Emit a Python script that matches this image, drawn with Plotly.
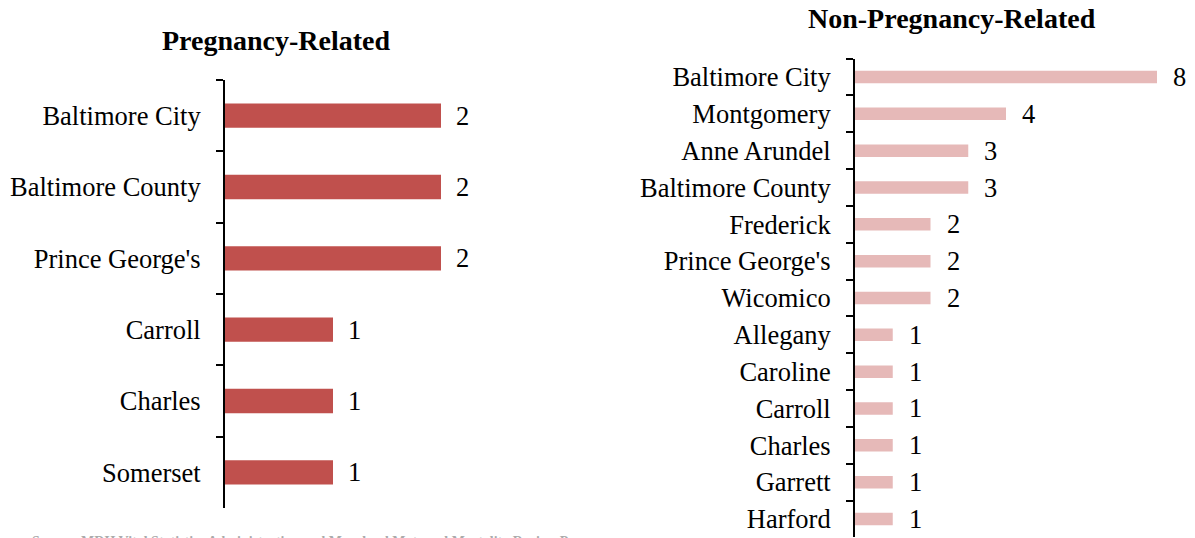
import plotly.graph_objects as go

preg_counties = ["Baltimore City", "Baltimore County", "Prince George's", "Carroll", "Charles", "Somerset"]
preg_values = [2, 2, 2, 1, 1, 1]

nonpreg_counties = ["Baltimore City", "Montgomery", "Anne Arundel", "Baltimore County", "Frederick",
                    "Prince George's", "Wicomico", "Allegany", "Caroline", "Carroll", "Charles",
                    "Garrett", "Harford"]
nonpreg_values = [8, 4, 3, 3, 2, 2, 2, 1, 1, 1, 1, 1, 1]

title_left = "Pregnancy-Related"
title_right = "Non-Pregnancy-Related"
footnote = "Source: MDH Vital Statistics Administration and Maryland Maternal Mortality Review Program"

W, H = 1195, 538
FONT = "Liberation Serif, Times New Roman, serif"
LBL = 26.5

fig = go.Figure()
fig.add_trace(go.Bar(y=preg_counties, x=preg_values, orientation="h",
                     marker=dict(color="#C0504D", line=dict(width=0)),
                     xaxis="x", yaxis="y", showlegend=False, hoverinfo="x+y"))
fig.add_trace(go.Bar(y=nonpreg_counties, x=nonpreg_values, orientation="h",
                     marker=dict(color="#E6B9B8", line=dict(width=0)),
                     xaxis="x2", yaxis="y2", showlegend=False, hoverinfo="x+y"))

annotations = []
for c, v in zip(preg_counties, preg_values):
    annotations.append(dict(x=v, y=c, xref="x", yref="y", text=str(v), showarrow=False,
                            xanchor="left", yanchor="middle", xshift=13,
                            font=dict(family=FONT, size=LBL, color="#000")))
for c, v in zip(nonpreg_counties, nonpreg_values):
    annotations.append(dict(x=v, y=c, xref="x2", yref="y2", text=str(v), showarrow=False,
                            xanchor="left", yanchor="middle", xshift=14,
                            font=dict(family=FONT, size=LBL, color="#000")))
annotations.append(dict(x=276 / W, y=1 - 40 / H, xref="paper", yref="paper", text="<b>" + title_left + "</b>",
                        showarrow=False, xanchor="center", yanchor="middle",
                        font=dict(family=FONT, size=28, color="#000")))
annotations.append(dict(x=952 / W, y=1 - 19 / H, xref="paper", yref="paper", text="<b>" + title_right + "</b>",
                        showarrow=False, xanchor="center", yanchor="middle",
                        font=dict(family=FONT, size=28, color="#000")))
annotations.append(dict(x=30 / W, y=1 - 531.5 / H, xref="paper", yref="paper", text="<b>" + footnote + "</b>",
                        showarrow=False, xanchor="left", yanchor="top",
                        font=dict(family=FONT, size=14, color="#aaa")))

ax_common = dict(showline=True, linecolor="#000", linewidth=2, ticks="outside", ticklen=7,
                 tickcolor="#000", tickwidth=2, tickson="boundaries", autorange="reversed",
                 tickfont=dict(family=FONT, size=LBL, color="#000"), ticklabelstandoff=17,
                 showgrid=False, zeroline=False, type="category")

fig.update_layout(
    width=W, height=H,
    margin=dict(l=0, r=0, t=0, b=0),
    paper_bgcolor="white", plot_bgcolor="white",
    bargap=0.66,
    xaxis=dict(domain=[225 / W, 495 / W], range=[0, 2.5], visible=False, anchor="y"),
    yaxis=dict(domain=[1 - 508 / H, 1 - 80 / H], anchor="x", **ax_common),
    xaxis2=dict(domain=[855 / W, 1194 / W], range=[0, 8.98], visible=False, anchor="y2"),
    yaxis2=dict(domain=[1 - 537.4 / H, 1 - 58.6 / H], anchor="x2", **ax_common),
    annotations=annotations,
)

fig.write_html("out.html", config={"displayModeBar": False},
               post_script="document.body.style.margin='0';document.body.style.overflow='hidden';")
